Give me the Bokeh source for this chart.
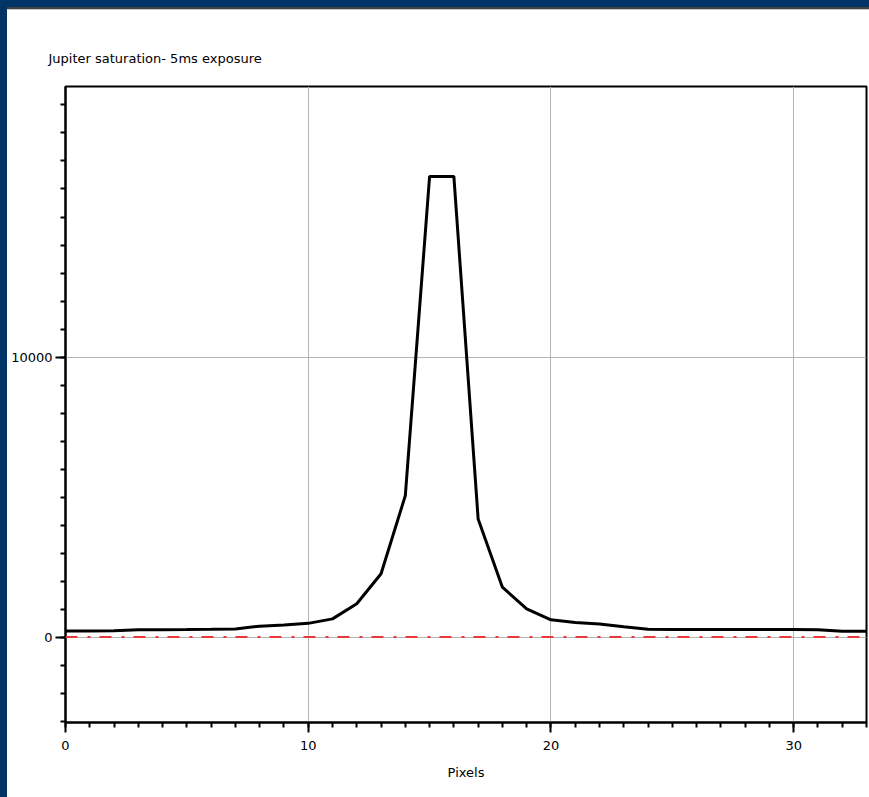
from bokeh.plotting import figure
from bokeh.models import Range1d, FixedTicker, Span, Div
from bokeh.layouts import row, column
from bokeh.embed import file_html
from bokeh.resources import INLINE

# Intensity profile across Jupiter (counts per pixel)
pixels = list(range(0, 34))
counts = [220, 220, 225, 262, 266, 270, 276, 290, 390, 430,
          490, 650, 1190, 2260, 5050, 16450, 16450, 4220, 1780, 1010,
          615, 520, 470, 370, 280, 272, 270, 270, 270, 270,
          268, 265, 212, 212]

x_major = [0, 10, 20, 30]
y_major = [0, 10000]

NAVY = "#003366"
FONT = "DejaVu Sans"

p = figure(width=862, height=787, output_backend="svg", toolbar_location=None,
           x_range=Range1d(0, 33), y_range=Range1d(-3050, 19660),
           min_border_left=58, min_border_right=3, min_border_top=76, min_border_bottom=75,
           background_fill_color="white", border_fill_color="white", margin=0)

p.title.text = "Jupiter saturation- 5ms exposure"
p.title.text_font = FONT
p.title.text_font_size = "13px"
p.title.text_font_style = "normal"
p.title.text_color = "black"
p.title.align = "left"
p.title.offset = -17
p.title.standoff = 41

p.outline_line_color = "black"
p.outline_line_width = 2
p.outline_line_alpha = 1

p.xaxis.ticker = FixedTicker(ticks=x_major, minor_ticks=list(range(0, 34)))
p.yaxis.ticker = FixedTicker(ticks=y_major, minor_ticks=list(range(-3000, 20000, 1000)))
p.xaxis.axis_label = "Pixels"

for ax in (p.xaxis[0], p.yaxis[0]):
    ax.axis_line_color = "black"
    ax.axis_line_width = 2
    ax.major_tick_line_color = "black"
    ax.major_tick_line_width = 2
    ax.minor_tick_line_color = "black"
    ax.minor_tick_line_width = 2
    ax.major_tick_out = 10
    ax.major_tick_in = 0
    ax.minor_tick_out = 5
    ax.minor_tick_in = 0
    ax.major_label_text_font = FONT
    ax.major_label_text_font_size = "13px"
    ax.major_label_text_color = "black"
    ax.axis_label_text_font = FONT
    ax.axis_label_text_font_size = "13px"
    ax.axis_label_text_font_style = "normal"
    ax.axis_label_text_color = "black"

p.xaxis.major_label_standoff = 8
p.xaxis.axis_label_standoff = 12
p.yaxis.major_label_standoff = 3

p.xgrid.ticker = FixedTicker(ticks=[10, 20, 30])
p.ygrid.ticker = FixedTicker(ticks=y_major)
p.grid.grid_line_color = "#b4b4b4"
p.grid.grid_line_width = 1

# zero reference
p.add_layout(Span(location=0, dimension="width", line_color="#e8383a",
                  line_width=2, line_dash="12 10 3 9"))

p.line(pixels, counts, line_color="black", line_width=3)

# window frame: navy bands on the left and top edges, thin rule under the top band
def strip(w, h, color):
    return Div(text="", width=w, height=h, margin=0,
               styles={"background-color": color, "padding": "0", "margin": "0"})

left_bar = strip(7, 797, NAVY)
top_bar = strip(862, 7, NAVY)
dark_rule = strip(862, 2, "#404040")
light_rule = strip(862, 1, "#c8c8c8")

layout = row(left_bar,
             column(top_bar, dark_rule, light_rule, p, spacing=0, margin=0),
             spacing=0, margin=0)

open("out.html", "w").write(file_html(layout, INLINE))
